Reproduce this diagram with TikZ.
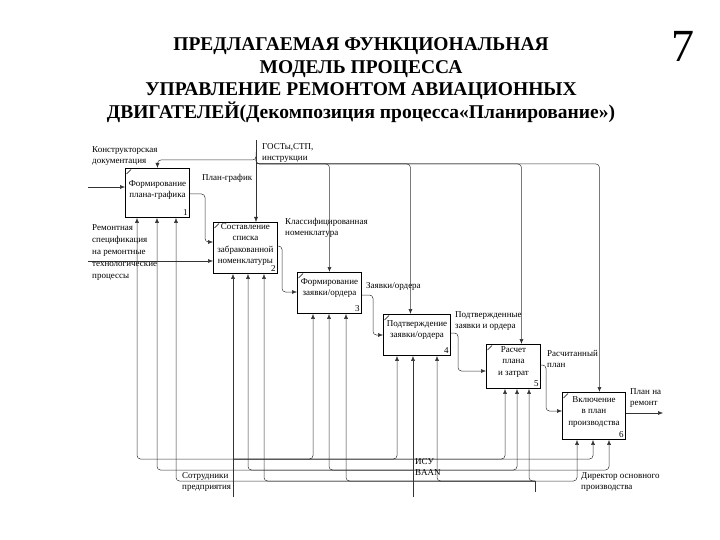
\documentclass[tikz,border=0pt]{standalone}
\usepackage{fontspec}
\setmainfont{Liberation Serif}
\usetikzlibrary{arrows.meta}

\begin{document}
\begin{tikzpicture}[x=1pt,y=-1pt,
          fbox/.style={
            draw, line width=0.9pt, anchor=north west, inner sep=0pt},
          ftxt/.style={
            anchor=north, align=center, inner sep=0pt,
            font=\fontsize{9}{11.5}\selectfont},
          fnum/.style={
            anchor=south east, inner sep=2pt, font=\fontsize{9}{10}\selectfont},
          lbl/.style={
            anchor=north west, align=left, inner sep=0pt,
            font=\fontsize{9}{11.5}\selectfont},
          arr/.style={-{Latex[length=5pt,width=4pt]}, black!80,
            line width=0.5pt, rounded corners=3.5pt},
          wire/.style={black!80, line width=0.5pt}
        ]
        \useasboundingbox (0,0) rectangle (720,540);
        \node[align=center, font=\fontsize{19.5}{22.5}\selectfont\bfseries] (title)
          at (361,80) {ПРЕДЛАГАЕМАЯ ФУНКЦИОНАЛЬНАЯ\\МОДЕЛЬ ПРОЦЕССА\\
          УПРАВЛЕНИЕ РЕМОНТОМ АВИАЦИОННЫХ\\
          ДВИГАТЕЛЕЙ(Декомпозиция процесса«Планирование»)};
        \node[font=\fontsize{46}{46}\selectfont] (pageno) at (683,46) {7};

        \node[fbox, minimum width=64pt, minimum height=49pt] (sched) at (125,168) {};
        \node[fbox, minimum width=64pt, minimum height=51pt] (rejects) at (213,222) {};
        \node[fbox, minimum width=64pt, minimum height=41pt] (orders) at (297,272) {};
        \node[fbox, minimum width=67pt, minimum height=41pt] (confirm) at (383,314) {};
        \node[fbox, minimum width=54pt, minimum height=44pt] (costs) at (486,344) {};
        \node[fbox, minimum width=63pt, minimum height=47pt] (include) at (562,392) {};
        \foreach \b in {sched,rejects,orders,confirm,costs,include}
          \draw[line width=0.6pt] ([xshift=1.5pt,yshift=-6pt]\b.north west) -- ++(4.5,-4.5);

        \node[ftxt] at ([yshift=-12pt]sched.north) {Формирование\\плана-графика};
        \node[ftxt] at ([yshift=-1pt]rejects.north)
          {Составление\\списка\\забракованной\\номенклатуры};
        \node[ftxt] at ([yshift=-6pt]orders.north) {Формирование\\заявки/ордера};
        \node[ftxt] at ([yshift=-6pt]confirm.north) {Подтверждение\\заявки/ордера};
        \node[ftxt] at ([yshift=-2pt]costs.north) {Расчет\\плана\\и затрат};
        \node[ftxt] at ([yshift=-4pt]include.north) {Включение\\в план\\производства};
        \node[fnum] at (sched.south east) {1};
        \node[fnum] at (rejects.south east) {2};
        \node[fnum] at (orders.south east) {3};
        \node[fnum] at (confirm.south east) {4};
        \node[fnum] at (costs.south east) {5};
        \node[fnum] at (include.south east) {6};

        \coordinate (kdoc) at (88,187);
        \coordinate (rspec) at (88,261);
        \draw[arr] (kdoc) -- (kdoc -| sched.west);
        \draw[arr] (rspec) -- (rspec -| rejects.west);
        \node[lbl] (kdoclbl) at (92,146) {Конструкторская\\документация};
        \node[lbl, font=\fontsize{9}{12.2}\selectfont] (rspeclbl) at (92,224)
          {Ремонтная\\спецификация\\на ремонтные\\технологические\\процессы};

        \coordinate (gost) at (256,140);
        \coordinate (ctlbus) at (0,164);
        \coordinate (c4) at ([xshift=-6.5pt]confirm.north);
        \coordinate (c5) at ([xshift=8pt]costs.north);
        \coordinate (c6) at ([xshift=5.5pt]include.north);
        \draw[arr] (gost) -- (gost |- rejects.north);
        \draw[arr] ([yshift=-12pt]gost) |- (sched.north |- 0,160) -- (sched.north);
        \foreach \c in {orders.north,c4,c5,c6}
          \draw[arr] ([yshift=-18pt]gost) |- (\c |- ctlbus) -- (\c);
        \node[lbl] (gostlbl) at (262,143) {ГОСТы,СТП,\\инструкции};

        \coordinate (i2) at ([yshift=-20pt]rejects.north west);
        \coordinate (i3) at ([yshift=-20pt]orders.north west);
        \coordinate (i4) at ([yshift=-21pt]confirm.north west);
        \coordinate (i5) at ([yshift=-27pt]costs.north west);
        \coordinate (i6) at ([yshift=-19pt]include.north west);
        \coordinate (plan) at (663,413);
        \draw[arr] ([yshift=-26pt]sched.north east) -| ([xshift=-8pt]i2) -- (i2);
        \draw[arr] ([yshift=-24pt]rejects.north east) -| ([xshift=-15pt]i3) -- (i3);
        \draw[arr] ([yshift=-23pt]orders.north east) -| ([xshift=-10pt]i4) -- (i4);
        \draw[arr] ([yshift=-19pt]confirm.north east) -| ([xshift=-28pt]i5) -- (i5);
        \draw[arr] ([yshift=-21pt]costs.north east) -| ([xshift=-16pt]i6) -- (i6);
        \draw[arr] (plan -| include.east) -- (plan);
        \node[lbl] at (202,174) {План-график};
        \node[lbl] at (285,218) {Классифицированная\\номенклатура};
        \node[lbl] at (366,282) {Заявки/ордера};
        \node[lbl] at (455,311) {Подтвержденные\\заявки и ордера};
        \node[lbl] at (547,350) {Расчитанный\\план};
        \node[lbl] at (630,388) {План на\\ремонт};

        \coordinate (staff) at (233,497);
        \coordinate (isu) at (413,497);
        \coordinate (dir) at (535,492);
        \coordinate (busA) at (0,459);
        \coordinate (busB) at (0,470);
        \coordinate (busC) at (0,481);
        \draw[arr] (staff) -- (staff |- rejects.south);
        \draw[arr] (isu) -- (isu |- confirm.south);
        \draw[wire] (dir) -- (dir |- busC);
        \foreach \x/\b in {137/sched,313/orders,397/confirm,505/costs,593/include}
          \draw[arr] (staff |- busA) -| (\x,0 |- \b.south);
        \foreach \x/\b in {157/sched,248/rejects,329/orders,517/costs,609/include}
          \draw[arr] (isu |- busB) -| (\x,0 |- \b.south);
        \foreach \x/\b in {176/sched,264/rejects,346/orders,437/confirm,529/costs,577/include}
          \draw[arr] (dir |- busC) -| (\x,0 |- \b.south);
        \node[lbl] at (182,472) {Сотрудники\\предприятия};
        \node[lbl] at (415,458) {ИСУ\\BAAN};
        \node[lbl] at (581,472) {Директор основного\\производства};
      \end{tikzpicture}
\end{document}
